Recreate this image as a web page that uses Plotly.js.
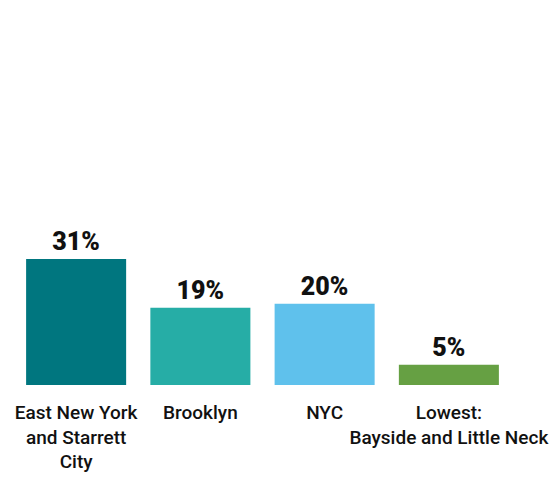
<!DOCTYPE html>
<html>
<head>
<meta charset="utf-8">
<script src="https://cdn.plot.ly/plotly-3.0.1.min.js"></script>
<style>html,body{margin:0;padding:0;background:#fff;}#chart{width:553px;height:480px;}</style>
</head>
<body>
<div id="chart"></div>
<script>
const categories = ["East New York<br>and Starrett<br>City", "Brooklyn", "NYC", "Lowest:<br>Bayside and Little Neck"];
const values = [31, 19, 20, 5];
const valueLabels = ["31%", "19%", "20%", "5%"];
const barColors = ["#00767F", "#26ADA6", "#5FC1EC", "#66A043"];

const trace = {
  type: "bar",
  x: categories,
  y: values,
  text: valueLabels,
  textposition: "outside",
  cliponaxis: false,
  textfont: {family: "Roboto, sans-serif", size: 25, color: "#111", weight: 900},
  marker: {color: barColors},
  hoverinfo: "none"
};

const layout = {
  width: 553,
  height: 480,
  margin: {l: 14, r: 42, t: 19, b: 95},
  paper_bgcolor: "#fff",
  plot_bgcolor: "#fff",
  bargap: 0.195,
  showlegend: false,
  xaxis: {
    showline: false,
    showgrid: false,
    zeroline: false,
    ticks: "",
    tickangle: 0,
    automargin: false,
    ticklabelstandoff: 14,
    tickfont: {family: "Roboto, sans-serif", size: 19, color: "#111", weight: 500}
  },
  yaxis: {
    range: [0, 90],
    visible: false,
    showgrid: false,
    zeroline: false
  }
};

Plotly.newPlot("chart", [trace], layout, {displayModeBar: false, staticPlot: true});
</script>
</body>
</html>
